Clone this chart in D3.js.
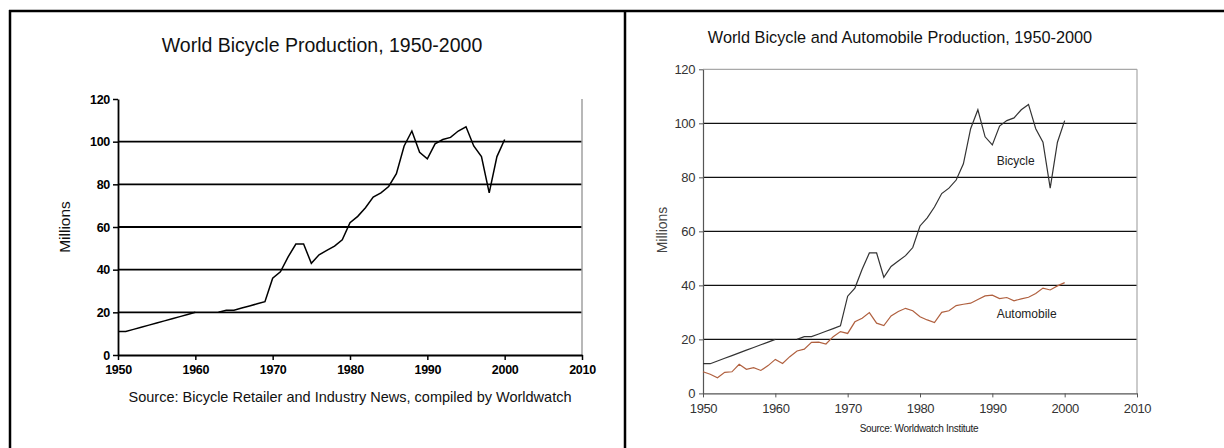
<!DOCTYPE html>
<html><head><meta charset="utf-8">
<script src="https://cdn.jsdelivr.net/npm/d3@7"></script>
<style>
html,body{margin:0;padding:0;background:#fff;}
svg{display:block;}
text{font-family:"Liberation Sans",Arial,sans-serif;}
</style></head>
<body>
<svg id="c" width="1224" height="448"></svg>
<script>
// ---- data ----
const years = d3.range(1950, 2001);
const bicycle = [11,11,12,13,14,15,16,17,18,19,20,null,null,20,21,21,22,23,24,25,
  36,39,46,52,52,43,47,49,51,54,62,65,69,74,76,79,85,98,105,95,
  92,99,101,102,105,107,98,93,76,93,101];
const automobile = [8.0,7.1,5.8,7.8,8.0,10.8,8.9,9.5,8.5,10.3,12.6,11.1,13.6,15.7,16.4,18.9,19.0,18.3,21.0,22.9,
  22.2,26.5,27.8,29.9,26.0,25.1,28.7,30.3,31.5,30.6,28.4,27.2,26.2,30.0,30.6,32.5,33.0,33.4,34.8,36.1,
  36.4,35.1,35.5,34.3,35.0,35.6,37.0,39.0,38.3,39.8,41.0];
const xTicks = [1950,1960,1970,1980,1990,2000,2010];
const yTicks = [0,20,40,60,80,100,120];
const gridValues = [20,40,60,80,100];
const titleLeft = "World Bicycle Production, 1950-2000";
const sourceLeft = "Source: Bicycle Retailer and Industry News, compiled by Worldwatch";
const titleRight = "World Bicycle and Automobile Production, 1950-2000";
const sourceRight = "Source: Worldwatch Institute";
const seriesLabels = ["Bicycle", "Automobile"];

const svg = d3.select("#c");

// ---- frame ----
svg.append("line").attr("x1",9).attr("x2",1224).attr("y1",11).attr("y2",11).attr("stroke","#000").attr("stroke-width",2.5);
svg.append("line").attr("x1",10).attr("x2",10).attr("y1",10).attr("y2",448).attr("stroke","#000").attr("stroke-width",2.5);
svg.append("line").attr("x1",625).attr("x2",625).attr("y1",10).attr("y2",448).attr("stroke","#000").attr("stroke-width",2.5);

const bikeData = years.map((y,i)=>({year:y, v:bicycle[i]}));
const autoData = years.map((y,i)=>({year:y, v:automobile[i]}));

// ---- left chart ----
{
  const x = d3.scaleLinear().domain([1950,2010]).range([118,582]);
  const y = d3.scaleLinear().domain([0,120]).range([355,99]);
  const g = svg.append("g");
  g.selectAll(".grid").data(gridValues).join("line")
    .attr("x1",x(1950)).attr("x2",x(2010)).attr("y1",d=>y(d)).attr("y2",d=>y(d))
    .attr("stroke","#000").attr("stroke-width",1.8);
  g.append("line").attr("x1",x(2010)).attr("x2",x(2010)).attr("y1",y(120)).attr("y2",y(0))
    .attr("stroke","#a0a0a0").attr("stroke-width",1.5);
  const ya = g.append("g").attr("transform",`translate(${x(1950)},0)`)
    .call(d3.axisLeft(y).tickValues(yTicks).tickSize(5).tickSizeOuter(0).tickPadding(3));
  const xa = g.append("g").attr("transform",`translate(0,${y(0)})`)
    .call(d3.axisBottom(x).tickValues(xTicks).tickFormat(d3.format("d")).tickSize(5).tickSizeOuter(0).tickPadding(5));
  [ya,xa].forEach(a=>{
    a.select(".domain").attr("stroke","#000").attr("stroke-width",1.8);
    a.selectAll(".tick line").attr("stroke","#000").attr("stroke-width",1.5);
    a.selectAll("text").attr("font-size",12.5).attr("fill","#000")
      .attr("font-family","'Liberation Sans',Arial,sans-serif").attr("font-weight","bold").attr("letter-spacing","-0.3");
  });
  const line = d3.line().defined(d=>d.v!=null).x(d=>x(d.year)).y(d=>y(d.v));
  g.append("path").datum(bikeData).attr("d",line).attr("fill","none").attr("stroke","#000").attr("stroke-width",1.5);
  g.append("text").attr("x",322).attr("y",52).attr("text-anchor","middle").attr("font-size",19.5).attr("fill","#111").text(titleLeft);
  g.append("text").attr("transform","translate(70,227) rotate(-90)").attr("text-anchor","middle").attr("font-size",15.5).attr("fill","#111").text("Millions");
  g.append("text").attr("x",350).attr("y",402).attr("text-anchor","middle").attr("font-size",14.5).attr("fill","#111").text(sourceLeft);
}

// ---- right chart ----
{
  const x = d3.scaleLinear().domain([1950,2010]).range([703,1137]);
  const y = d3.scaleLinear().domain([0,120]).range([393.4,69.3]);
  const g = svg.append("g");
  g.selectAll(".grid").data(gridValues).join("line")
    .attr("x1",x(1950)).attr("x2",x(2010)).attr("y1",d=>y(d)).attr("y2",d=>y(d))
    .attr("stroke","#111").attr("stroke-width",1.2);
  g.append("line").attr("x1",x(1950)).attr("x2",x(2010)).attr("y1",y(120)).attr("y2",y(120))
    .attr("stroke","#a8a8a8").attr("stroke-width",1.2);
  g.append("line").attr("x1",x(2010)).attr("x2",x(2010)).attr("y1",y(120)).attr("y2",y(0))
    .attr("stroke","#a8a8a8").attr("stroke-width",1.2);
  const ya = g.append("g").attr("transform",`translate(${x(1950)},0)`)
    .call(d3.axisLeft(y).tickValues(yTicks).tickSize(4).tickSizeOuter(0).tickPadding(4));
  const xa = g.append("g").attr("transform",`translate(0,${y(0)})`)
    .call(d3.axisBottom(x).tickValues(xTicks).tickFormat(d3.format("d")).tickSize(4).tickSizeOuter(0).tickPadding(6));
  [ya,xa].forEach(a=>{
    a.select(".domain").attr("stroke","#555").attr("stroke-width",1.2);
    a.selectAll(".tick line").attr("stroke","#555").attr("stroke-width",1);
    a.selectAll("text").attr("font-size",13).attr("fill","#333")
      .attr("font-family","'Liberation Sans',Arial,sans-serif").attr("letter-spacing","-0.4");
  });
  const line = d3.line().defined(d=>d.v!=null).x(d=>x(d.year)).y(d=>y(d.v));
  g.append("path").datum(bikeData).attr("d",line).attr("fill","none").attr("stroke","#333").attr("stroke-width",1.2);
  g.append("path").datum(autoData).attr("d",line).attr("fill","none").attr("stroke","#b0603f").attr("stroke-width",1.2);
  g.append("text").attr("x",x(1990.6)).attr("y",y(84.5)).attr("font-size",12).attr("fill","#222").text(seriesLabels[0]);
  g.append("text").attr("x",x(1990.6)).attr("y",y(28)).attr("font-size",12).attr("fill","#222").text(seriesLabels[1]);
  g.append("text").attr("x",900).attr("y",43).attr("text-anchor","middle").attr("font-size",16.3).attr("fill","#111").text(titleRight);
  g.append("text").attr("transform","translate(667,230) rotate(-90)").attr("text-anchor","middle").attr("font-size",14).attr("fill","#444").text("Millions");
  g.append("text").attr("x",919).attr("y",432).attr("text-anchor","middle").attr("font-size",10).attr("fill","#222").attr("letter-spacing","-0.3").text(sourceRight);
}
</script>
</body></html>
